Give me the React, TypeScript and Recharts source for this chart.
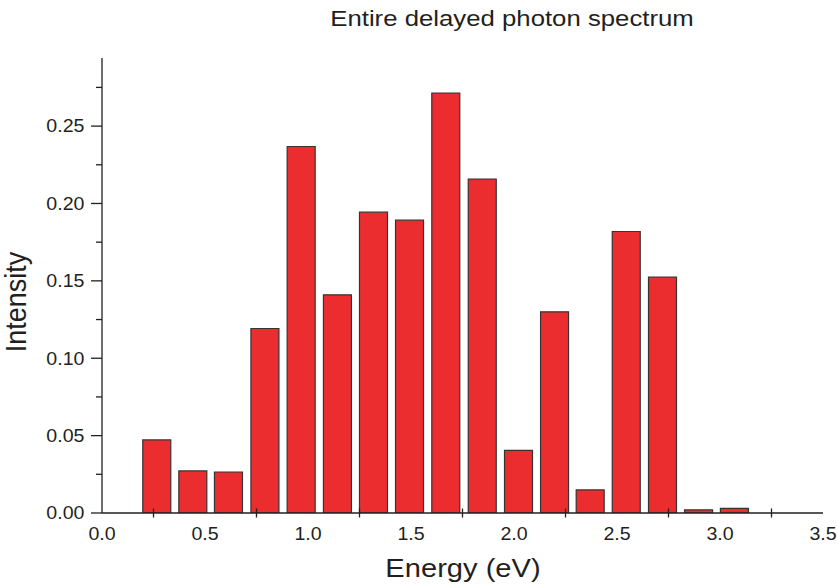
import { Bar, BarChart, XAxis, YAxis } from "recharts";

// bin centres (eV) and intensities
const energy = [0.265, 0.44, 0.613, 0.79, 0.966, 1.142, 1.317, 1.492, 1.668, 1.845, 2.021, 2.196, 2.369, 2.544, 2.72, 2.895, 3.069];
const intensity = [0.0472, 0.0272, 0.0265, 0.1192, 0.2368, 0.141, 0.1944, 0.1892, 0.2713, 0.2157, 0.0405, 0.13, 0.0149, 0.1819, 0.1524, 0.002, 0.003];

const xTicks = [0, 0.25, 0.5, 0.75, 1, 1.25, 1.5, 1.75, 2, 2.25, 2.5, 2.75, 3, 3.25, 3.5];
const yTicks = [0, 0.025, 0.05, 0.075, 0.1, 0.125, 0.15, 0.175, 0.2, 0.225, 0.25, 0.275];

const data = energy.map((x, i) => ({ x, y: intensity[i] }));

const INK = "#231f20";
const FONT = "'Liberation Sans', Arial, sans-serif";
const SX = 1.12; // the figure is slightly stretched horizontally

function isMultiple(v: number, step: number) {
  return Math.abs(v / step - Math.round(v / step)) < 1e-6;
}

function XTick(props: any) {
  const { x, y, payload } = props;
  const v = payload.value;
  if (!isMultiple(v, 0.5)) {
    return <line x1={x} x2={x} y1={y - 4.5} y2={y + 4.5} stroke={INK} strokeWidth={1.3} />;
  }
  return (
    <text
      transform={`translate(${x},${y + 27}) scale(${SX},1)`}
      textAnchor="middle"
      fontSize={17.5}
      fontFamily={FONT}
      fill={INK}
    >
      {v.toFixed(1)}
    </text>
  );
}

function YTick(props: any) {
  const { x, y, payload } = props;
  const v = payload.value;
  const major = isMultiple(v, 0.05);
  return (
    <g>
      <line x1={x - (major ? 11 : 6)} x2={x} y1={y} y2={y} stroke={INK} strokeWidth={1.3} />
      {major && (
        <text
          transform={`translate(${x - 17.5},${y + 6.3}) scale(${SX},1)`}
          textAnchor="end"
          fontSize={17.5}
          fontFamily={FONT}
          fill={INK}
        >
          {v.toFixed(2)}
        </text>
      )}
    </g>
  );
}

export default function App() {
  return (
    <div style={{ position: "absolute", left: 0, top: 0, width: 838, height: 588, background: "#fff" }}>
      <BarChart width={838} height={588} data={data} margin={{ top: 58, right: 15, bottom: 0, left: 0 }}>
        <XAxis
          dataKey="x"
          type="number"
          domain={[0, 3.5]}
          ticks={xTicks}
          interval={0}
          height={75}
          tickLine={false}
          tickSize={0}
          tickMargin={0}
          allowDataOverflow
          axisLine={{ stroke: INK, strokeWidth: 1.3 }}
          tick={<XTick />}
        />
        <YAxis
          type="number"
          domain={[0, 0.294]}
          ticks={yTicks}
          interval={0}
          width={102}
          tickLine={false}
          tickSize={0}
          tickMargin={0}
          allowDataOverflow
          axisLine={{ stroke: INK, strokeWidth: 1.3 }}
          tick={<YTick />}
        />
        <Bar
          dataKey="y"
          fill="#ec2d2f"
          stroke="#3a3232"
          strokeWidth={1.2}
          barSize={28}
          isAnimationActive={false}
        />
      </BarChart>
      <svg width={838} height={588} style={{ position: "absolute", left: 0, top: 0, pointerEvents: "none" }}>
        <text transform={`translate(512,26) scale(${SX},1)`} textAnchor="middle" fontSize={23} fontFamily={FONT} fill={INK}>
          Entire delayed photon spectrum
        </text>
        <text transform={`translate(463,577) scale(${SX},1)`} textAnchor="middle" fontSize={26} fontFamily={FONT} fill={INK}>
          Energy (eV)
        </text>
        <text transform={`translate(26,302) scale(${SX},1) rotate(-90)`} textAnchor="middle" fontSize={27} fontFamily={FONT} fill={INK}>
          Intensity
        </text>
      </svg>
    </div>
  );
}
